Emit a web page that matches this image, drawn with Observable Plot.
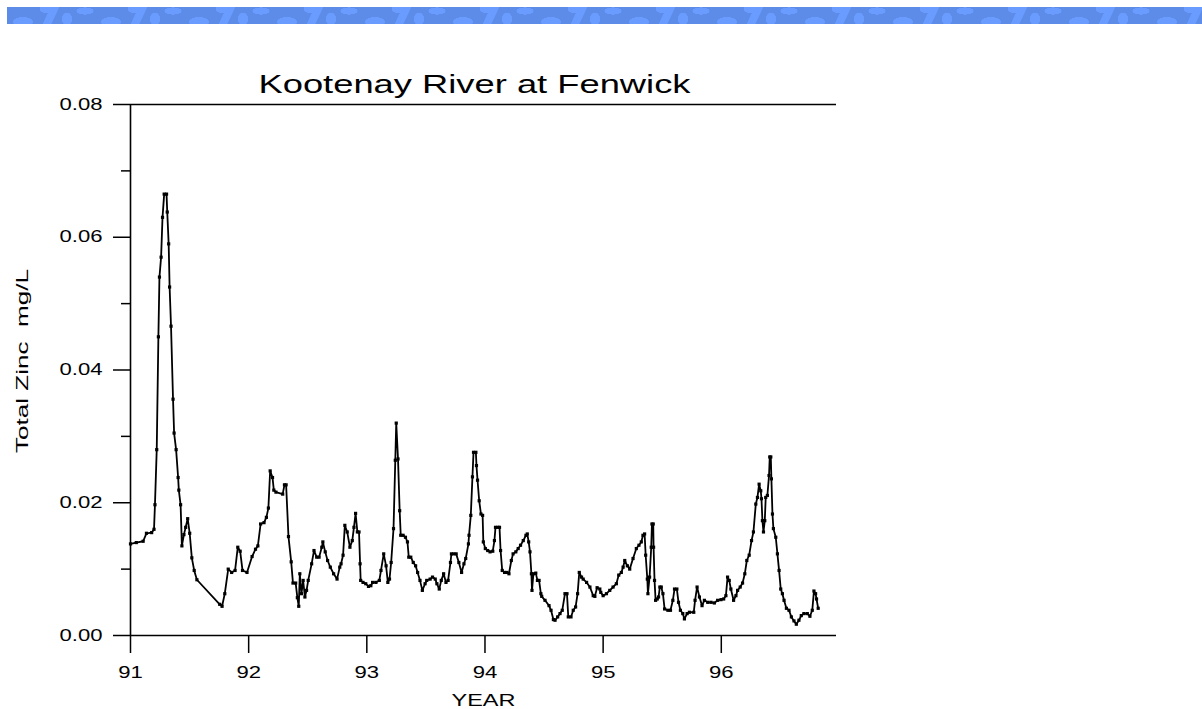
<!DOCTYPE html>
<html>
<head>
<meta charset="utf-8">
<script src="https://cdn.jsdelivr.net/npm/d3@7"></script>
<script src="https://cdn.jsdelivr.net/npm/@observablehq/plot@0.6"></script>
<style>
  html, body { margin: 0; padding: 0; background: #fff; width: 1202px; height: 709px; overflow: hidden; }
  #banner {
    position: absolute; left: 7px; top: 7px; width: 1195px; height: 17px;
    background-color: #5c8ce8;
    background-image:
      radial-gradient(ellipse 14px 7px at 16px 15px, #6a9cff 70%, transparent 72%),
      radial-gradient(ellipse 10px 6px at 40px 2px, #6a9cff 70%, transparent 72%),
      radial-gradient(ellipse 7px 9px at 60px 12px, #6a9cff 70%, transparent 72%),
      radial-gradient(ellipse 12px 5px at 78px 4px, #6a9cff 70%, transparent 72%),
      linear-gradient(115deg, transparent 45%, #6a9cff 46%, #6a9cff 54%, transparent 55%);
    background-size: 88px 17px;
    z-index: 2;
  }
  #chart { position: absolute; left: 0; top: 0; }
</style>
</head>
<body>
<div id="banner"></div>
<div id="chart"></div>
<script>
const title = "Kootenay River at Fenwick";
const xLabel = "YEAR";
const yLabel = "Total Zinc  mg/L";
const xTicks = [91, 92, 93, 94, 95, 96];
const yTicksMajor = [0, 0.02, 0.04, 0.06, 0.08];
const yTicksMinor = [0.01, 0.03, 0.05, 0.07];

const years = [
  91.000, 91.049, 91.107, 91.135, 91.179, 91.199, 91.207, 91.222, 91.236, 91.245,
  91.259, 91.271, 91.285, 91.305, 91.311, 91.323, 91.331, 91.343, 91.360, 91.369,
  91.386, 91.403, 91.409, 91.424, 91.435, 91.452, 91.467, 91.484, 91.501, 91.519,
  91.539, 91.562, 91.755, 91.775, 91.798, 91.827, 91.856, 91.885, 91.908, 91.928,
  91.948, 91.986, 92.029, 92.058, 92.078, 92.101, 92.130, 92.150, 92.167, 92.182,
  92.202, 92.213, 92.231, 92.288, 92.303, 92.317, 92.337, 92.360, 92.375, 92.398,
  92.412, 92.424, 92.433, 92.447, 92.461, 92.476, 92.490, 92.504, 92.533, 92.553,
  92.576, 92.596, 92.619, 92.628, 92.648, 92.668, 92.691, 92.719, 92.748, 92.771,
  92.782, 92.799, 92.814, 92.834, 92.857, 92.877, 92.891, 92.905, 92.920, 92.934,
  92.943, 92.948, 92.968, 92.991, 93.014, 93.034, 93.049, 93.077, 93.106, 93.120,
  93.143, 93.163, 93.178, 93.192, 93.206, 93.226, 93.241, 93.249, 93.264, 93.278,
  93.287, 93.307, 93.327, 93.344, 93.355, 93.372, 93.393, 93.413, 93.430, 93.450,
  93.470, 93.493, 93.507, 93.536, 93.556, 93.579, 93.593, 93.613, 93.630, 93.650,
  93.670, 93.688, 93.708, 93.716, 93.736, 93.756, 93.779, 93.802, 93.822, 93.837,
  93.860, 93.865, 93.880, 93.894, 93.903, 93.923, 93.928, 93.937, 93.951, 93.966,
  93.980, 93.986, 94.003, 94.023, 94.043, 94.066, 94.080, 94.089, 94.109, 94.123,
  94.132, 94.146, 94.166, 94.186, 94.203, 94.223, 94.238, 94.261, 94.281, 94.301,
  94.324, 94.347, 94.358, 94.370, 94.381, 94.393, 94.398, 94.410, 94.430, 94.444,
  94.458, 94.473, 94.480, 94.508, 94.542, 94.559, 94.579, 94.593, 94.615, 94.635,
  94.654, 94.677, 94.694, 94.705, 94.728, 94.747, 94.767, 94.784, 94.798, 94.817,
  94.831, 94.860, 94.888, 94.916, 94.930, 94.949, 94.972, 94.980, 95.000, 95.028,
  95.056, 95.084, 95.112, 95.132, 95.154, 95.169, 95.183, 95.205, 95.225, 95.253,
  95.281, 95.303, 95.323, 95.337, 95.351, 95.360, 95.374, 95.379, 95.393, 95.407,
  95.413, 95.424, 95.427, 95.435, 95.444, 95.458, 95.469, 95.480, 95.492, 95.506,
  95.520, 95.548, 95.570, 95.590, 95.604, 95.624, 95.638, 95.654, 95.674, 95.688,
  95.711, 95.730, 95.767, 95.778, 95.795, 95.815, 95.837, 95.857, 95.885, 95.913,
  95.941, 95.969, 95.997, 96.020, 96.039, 96.053, 96.067, 96.081, 96.104, 96.124,
  96.138, 96.160, 96.180, 96.199, 96.216, 96.236, 96.256, 96.272, 96.292, 96.306,
  96.320, 96.334, 96.340, 96.348, 96.357, 96.368, 96.376, 96.390, 96.404, 96.410,
  96.419, 96.424, 96.433, 96.441, 96.461, 96.475, 96.489, 96.503, 96.517, 96.531,
  96.551, 96.573, 96.593, 96.615, 96.635, 96.657, 96.677, 96.699, 96.728, 96.750,
  96.770, 96.784, 96.798, 96.806, 96.820
];

const zinc = [
  0.0138, 0.0140, 0.0142, 0.0154, 0.0155, 0.0160, 0.0197, 0.0280, 0.0450, 0.0540,
  0.0570, 0.0630, 0.0665, 0.0665, 0.0638, 0.0590, 0.0525, 0.0466, 0.0356, 0.0305,
  0.0280, 0.0238, 0.0219, 0.0197, 0.0135, 0.0152, 0.0163, 0.0176, 0.0154, 0.0117,
  0.0098, 0.0084, 0.0047, 0.0044, 0.0063, 0.0100, 0.0095, 0.0098, 0.0133, 0.0127,
  0.0098, 0.0095, 0.0119, 0.0130, 0.0135, 0.0168, 0.0170, 0.0178, 0.0192, 0.0248,
  0.0238, 0.0219, 0.0216, 0.0213, 0.0227, 0.0227, 0.0149, 0.0111, 0.0079, 0.0079,
  0.0057, 0.0044, 0.0093, 0.0063, 0.0083, 0.0058, 0.0068, 0.0083, 0.0108, 0.0128,
  0.0118, 0.0118, 0.0133, 0.0141, 0.0126, 0.0113, 0.0103, 0.0093, 0.0085, 0.0103,
  0.0108, 0.0121, 0.0166, 0.0156, 0.0133, 0.0143, 0.0163, 0.0184, 0.0156, 0.0156,
  0.0108, 0.0083, 0.0080, 0.0078, 0.0074, 0.0075, 0.0080, 0.0080, 0.0083, 0.0098,
  0.0123, 0.0105, 0.0080, 0.0085, 0.0110, 0.0161, 0.0264, 0.0320, 0.0266, 0.0188,
  0.0151, 0.0151, 0.0148, 0.0141, 0.0118, 0.0118, 0.0110, 0.0105, 0.0095, 0.0083,
  0.0068, 0.0078, 0.0083, 0.0085, 0.0088, 0.0085, 0.0078, 0.0070, 0.0083, 0.0093,
  0.0080, 0.0083, 0.0110, 0.0123, 0.0123, 0.0123, 0.0110, 0.0095, 0.0108, 0.0116,
  0.0138, 0.0151, 0.0181, 0.0239, 0.0276, 0.0276, 0.0256, 0.0234, 0.0203, 0.0183,
  0.0181, 0.0141, 0.0131, 0.0128, 0.0126, 0.0127, 0.0143, 0.0163, 0.0163, 0.0163,
  0.0128, 0.0098, 0.0095, 0.0095, 0.0093, 0.0113, 0.0123, 0.0126, 0.0131, 0.0136,
  0.0143, 0.0151, 0.0153, 0.0141, 0.0126, 0.0093, 0.0068, 0.0093, 0.0094, 0.0083,
  0.0083, 0.0063, 0.0059, 0.0053, 0.0045, 0.0038, 0.0024, 0.0023, 0.0028, 0.0033,
  0.0038, 0.0063, 0.0063, 0.0028, 0.0028, 0.0038, 0.0043, 0.0063, 0.0095, 0.0088,
  0.0085, 0.0080, 0.0073, 0.0060, 0.0059, 0.0072, 0.0070, 0.0065, 0.0060, 0.0063,
  0.0068, 0.0073, 0.0078, 0.0091, 0.0095, 0.0103, 0.0113, 0.0105, 0.0100, 0.0116,
  0.0131, 0.0136, 0.0141, 0.0151, 0.0153, 0.0121, 0.0085, 0.0063, 0.0088, 0.0133,
  0.0168, 0.0168, 0.0133, 0.0083, 0.0053, 0.0055, 0.0058, 0.0073, 0.0073, 0.0063,
  0.0040, 0.0038, 0.0038, 0.0053, 0.0070, 0.0070, 0.0050, 0.0038, 0.0033, 0.0025,
  0.0033, 0.0035, 0.0035, 0.0053, 0.0073, 0.0058, 0.0045, 0.0053, 0.0050, 0.0050,
  0.0049, 0.0053, 0.0054, 0.0055, 0.0060, 0.0088, 0.0083, 0.0070, 0.0053, 0.0060,
  0.0068, 0.0073, 0.0079, 0.0093, 0.0113, 0.0121, 0.0143, 0.0156, 0.0198, 0.0208,
  0.0228, 0.0218, 0.0206, 0.0173, 0.0156, 0.0173, 0.0208, 0.0211, 0.0241, 0.0269,
  0.0269, 0.0236, 0.0183, 0.0161, 0.0148, 0.0123, 0.0098, 0.0070, 0.0063, 0.0053,
  0.0041, 0.0038, 0.0028, 0.0022, 0.0017, 0.0023, 0.0030, 0.0033, 0.0033, 0.0029,
  0.0038, 0.0067, 0.0063, 0.0055, 0.0041
];

const data = years.map((y, i) => ({year: y, zinc: zinc[i]}));
const font = "'Liberation Sans', Arial, sans-serif";

const chart = Plot.plot({
  width: 900,
  height: 709,
  marginLeft: 130,
  marginRight: 64,
  marginTop: 104,
  marginBottom: 74,
  style: {fontFamily: font, fontSize: "16px", color: "#000", background: "transparent", overflow: "visible"},
  x: {domain: [91, 96.975]},
  y: {domain: [0, 0.08]},
  marks: [
    Plot.axisX({ticks: xTicks, tickSize: 18, tickPadding: 13, tickFormat: d => String(d), label: null, strokeWidth: 1.5}),
    Plot.axisY({ticks: yTicksMajor, tickSize: 17, tickPadding: 11, tickFormat: d3.format(".2f"), label: null, strokeWidth: 1.5}),
    Plot.axisY({ticks: yTicksMinor, tickSize: 9, tickFormat: () => "", label: null, strokeWidth: 1.5}),
    Plot.ruleY([0, 0.08], {stroke: "#000", strokeWidth: 1.6}),
    Plot.ruleX([91], {stroke: "#000", strokeWidth: 1.6}),
    Plot.line(data, {x: "year", y: "zinc", stroke: "#000", strokeWidth: 1.8}),
    Plot.dot(data, {x: "year", y: "zinc", symbol: "square", r: 1.8, fill: "#000", stroke: "none"}),
    Plot.text([title], {frameAnchor: "top", dx: -9, dy: -12, lineAnchor: "bottom", fontSize: 26, fill: "#000", className: "ttl"}),
    Plot.text([xLabel], {frameAnchor: "bottom", dy: 65, lineAnchor: "middle", fontSize: 17, fill: "#000", className: "xl"}),
    Plot.text([yLabel], {frameAnchor: "left", dx: -108, dy: 83, rotate: -90, textAnchor: "start", lineAnchor: "middle", fontSize: 16, fill: "#000", className: "yl", text: d => d})
  ]
});

document.getElementById("chart").append(chart);

// Stretch text horizontally to match the wide bitmap font of the original
function stretch(el, factor, target) {
  const len = el.getComputedTextLength();
  if (!len) return;
  el.setAttribute("textLength", target != null ? target : len * factor);
  el.setAttribute("lengthAdjust", "spacingAndGlyphs");
}
d3.select(chart).selectAll("text").each(function() {
  const cls = this.closest("g") ? this.closest("g").getAttribute("class") || "" : "";
  if (cls.includes("yl")) stretch(this, 1, 184);
  else if (cls.includes("ttl")) stretch(this, 1, 432);
  else stretch(this, 1.38);
});
</script>
</body>
</html>
